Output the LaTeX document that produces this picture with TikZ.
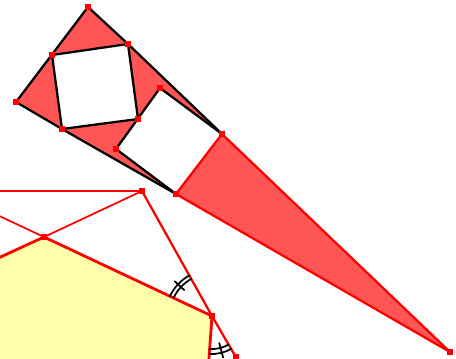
\documentclass[tikz,border=0pt]{standalone}
\usetikzlibrary{calc}
\definecolor{gred}{RGB}{255,0,0}
\definecolor{rfill}{RGB}{255,85,85}
\definecolor{yfill}{RGB}{255,255,170}
\begin{document}
\begin{tikzpicture}[x=0.75pt,y=-0.75pt, line join=round, line cap=round,
  pt/.style={fill=gred, inner sep=0pt, minimum size=3.8pt, rectangle, draw=none},
  blk/.style={draw=black, line width=1.7pt},
  rl/.style={draw=gred, line width=1.7pt},
  thinred/.style={draw=gred, line width=1.3pt},
  edgeline/.style={draw=gred, line width=2.1pt},
  anglemark/.style={draw=black, line width=1.3pt}]
\useasboundingbox (0,0) rectangle (456,358);
\clip (0,0) rectangle (456,358);
% upper figure
\coordinate (A) at (88,7);
\coordinate (B) at (16,102);
\coordinate (P1) at (52,55);
\coordinate (P2) at (128,44);
\coordinate (P3) at (138,119);
\coordinate (P4) at (62,129);
\coordinate (Q1) at (160,88);
\coordinate (Q2) at (222,134);
\coordinate (Q3) at (176,194);
\coordinate (Q4) at (116,149);
\coordinate (F) at (450,352);
% lower figure
\coordinate (H0) at (0,191);
\coordinate (H) at (142,191);
\coordinate (C2) at (44,237);
\coordinate (L0) at (-10,211.6);
\coordinate (Y0) at (-20,266.4);
\coordinate (V) at (212,316);
\coordinate (Y3) at (208.6,364);
\coordinate (W) at (236,357);
\coordinate (W2) at (248,378);
% fills
\fill[rfill] (A) -- (B) -- (Q3) -- (F) -- (Q2) -- cycle;
\fill[white] (P1) -- (P2) -- (P3) -- (P4) -- cycle;
\fill[white] (Q1) -- (Q2) -- (Q3) -- (Q4) -- cycle;
\fill[yfill] (Y0) -- (C2) -- (V) -- (Y3) -- (-20,380) -- cycle;
% black lines
\draw[blk] (A) -- (B) -- (P4) -- (Q3);
\draw[blk] (A) -- (P2) -- (Q2);
\draw[blk] (P1) -- (P2) -- (P3) -- (P4) -- cycle;
\draw[blk] (Q3) -- (Q4) -- (Q1) -- (Q2);
% red triangle
\draw[rl] (Q2) -- (F) -- (Q3) -- cycle;
% lower lines
\draw[thinred] (H0) -- (H) -- (C2);
\draw[thinred] (L0) -- (C2);
\draw[edgeline] (Y0) -- (C2) -- (V) -- (Y3);
\draw[rl] (H) -- (V) -- (W2);
% angle marks
\draw[anglemark] ($(V)+(205.2:42.5)$) arc[start angle=205.2, end angle=240.7, radius=42.5];
\draw[anglemark] ($(V)+(205.2:46.5)$) arc[start angle=205.2, end angle=240.7, radius=46.5];
\draw[anglemark] ($(V)+(223:38)$) -- ($(V)+(223:51)$);
\draw[anglemark] ($(V)+(59.7:33)$) arc[start angle=59.7, end angle=94.1, radius=33];
\draw[anglemark] ($(V)+(59.7:38)$) arc[start angle=59.7, end angle=94.1, radius=38];
\draw[anglemark] ($(V)+(75:28)$) -- ($(V)+(75:43)$);
% points
\foreach \p in {A,B,P1,P2,P3,P4,Q1,Q2,Q3,Q4,F,H,C2,V,W}
  \node[pt] (m\p) at (\p) {};
\end{tikzpicture}
\end{document}
